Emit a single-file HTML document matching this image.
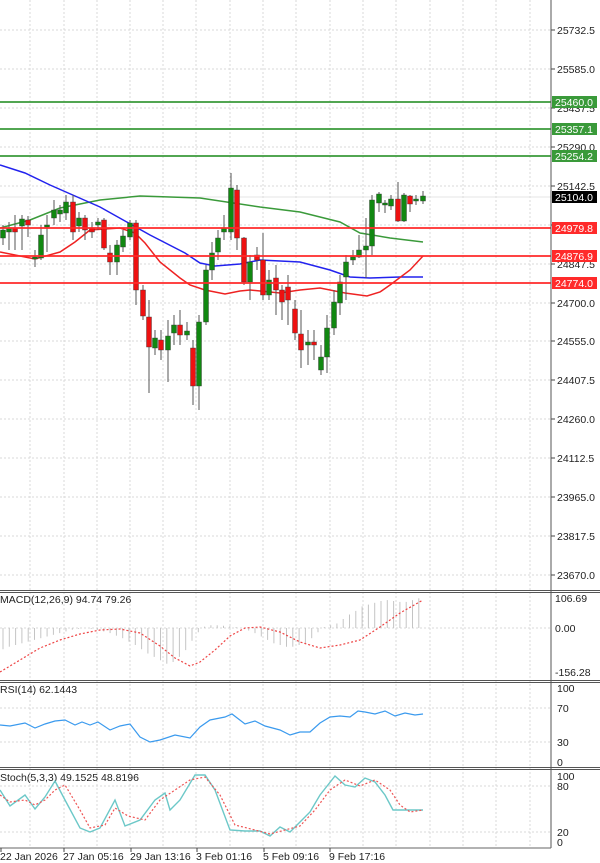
<!DOCTYPE html>
<html><head><meta charset="utf-8"><style>
html,body{margin:0;padding:0;background:#fff;}
svg{display:block;font-family:"Liberation Sans",sans-serif;}
</style></head><body>
<svg id="s" width="600" height="863" xmlns="http://www.w3.org/2000/svg"></svg>
<script>
const S=document.getElementById('s');let h='';
const L=(x1,y1,x2,y2,c,w,d)=>{h+=`<line x1="${x1}" y1="${y1}" x2="${x2}" y2="${y2}" stroke="${c}" stroke-width="${w||1}" ${d?`stroke-dasharray="${d}"`:''}/>`;};
const T=(x,y,t,s,c,a)=>{h+=`<text x="${x}" y="${y}" font-size="${s||11}" fill="${c||'#222'}" ${a?`text-anchor="${a}"`:''}>${t}</text>`;};
const P=(pts,c,w,d)=>{h+=`<polyline fill="none" points="${pts.map(p=>p.join(',')).join(' ')}" stroke="${c}" stroke-width="${w||1.5}" ${d?`stroke-dasharray="${d}"`:''}/>`;};
const gx=[30,64,97,130,163,196,230,263,296,330,363,396,430,463,496,530];
gx.forEach(x=>L(x,0,x,848,'#d8d8d8',1,'2,2'));
const prices=[[25732.5,30],[25585.0,69],[25437.5,108],[25290.0,147],[25142.5,186],[24995.0,225],[24847.5,264],[24700.0,303],[24555.0,341],[24407.5,380],[24260.0,419],[24112.5,458],[23965.0,497],[23817.5,536],[23670.0,575]];
prices.forEach(p=>{L(0,p[1],551,p[1],'#d8d8d8',1,'2,2');L(551,p[1],555,p[1],'#444');T(557,p[1]+4,p[0].toFixed(1),10.5);});
L(0,197,551,197,'#e4e4e4',1);
P([[0,228],[30,220],[60,208],[100,200],[140,196],[200,198],[260,207],[300,212],[340,222],[360,233],[390,238],[423,242]],'#3a9a3a');
P([[0,165],[25,173],[50,185],[100,207],[150,235],[185,253],[200,263],[215,266],[240,264],[260,260],[300,262],[330,270],[350,277],[370,278],[400,277],[423,277]],'#2222ee');
P([[0,252],[20,256],[35,259],[60,252],[75,242],[90,230],[120,228],[135,233],[145,243],[160,262],[180,278],[190,285],[205,290],[225,294],[240,291],[250,290],[280,293],[300,290],[320,288],[345,293],[367,296],[380,292],[390,285],[410,270],[423,256]],'#ee2222');
const C=[[3,230,238,225,245,1],[9,228,232,222,250,1],[15,228,232,215,250,0],[22,219,226,215,250,1],[28,220,225,216,237,0],[35,257,259,250,267,1],[41,235,258,225,260,1],[47,225,227,215,252,1],[54,210,218,200,225,1],[60,210,214,205,222,1],[66,202,213,195,220,1],[73,202,232,195,240,0],[79,218,226,212,232,1],[85,218,230,215,240,0],[92,228,232,222,238,0],[98,222,225,218,230,1],[104,220,248,218,250,0],[110,253,262,245,275,0],[117,245,262,240,275,1],[123,236,247,230,252,1],[130,223,237,220,240,1],[136,223,290,220,305,0],[143,290,316,285,320,0],[149,317,347,300,393,0],[155,338,348,330,355,1],[161,340,350,330,360,0],[168,336,350,320,382,1],[174,325,333,315,345,1],[180,325,335,310,345,0],[187,331,335,322,340,1],[193,348,386,340,405,0],[199,322,386,315,410,1],[206,270,322,265,325,1],[212,253,270,242,280,1],[218,238,252,230,260,1],[224,228,232,215,240,1],[231,188,232,173,240,1],[237,190,238,185,250,0],[244,238,282,237,285,0],[250,262,282,255,300,1],[257,255,260,247,270,0],[263,260,295,233,300,0],[269,280,295,270,300,1],[276,278,290,265,315,0],[282,290,302,285,320,0],[288,287,300,275,325,0],[295,309,333,300,340,0],[301,334,350,310,368,0],[308,342,345,330,365,1],[314,342,345,330,360,0],[321,357,370,345,375,1],[327,328,357,315,373,1],[334,302,328,290,335,1],[340,282,303,275,315,1],[346,262,277,255,300,1],[353,257,260,250,265,1],[359,250,257,235,258,1],[366,246,250,218,278,1],[372,200,246,195,255,1],[379,194,203,192,212,1],[385,203,205,200,213,1],[391,199,206,195,210,1],[398,199,221,182,222,0],[404,195,221,193,222,1],[410,196,204,195,212,0],[416,199,201,195,205,1],[423,196,201,191,204,1]];
C.forEach(c=>{L(c[0],c[3],c[0],c[4],'#555',1);const col=c[5]?'#118811':'#ee1111';h+=`<rect x="${c[0]-2.5}" y="${c[1]}" width="5" height="${Math.max(c[2]-c[1],1.5)}" fill="${col}" stroke="#333" stroke-width="0.4"/>`;});
[[102,'25460.0','#3a9a3a'],[129,'25357.1','#3a9a3a'],[156,'25254.2','#3a9a3a'],[228,'24979.8','#ff2a2a'],[256,'24876.9','#ff2a2a'],[283,'24774.0','#ff2a2a']].forEach(l=>{L(0,l[0],551,l[0],l[2],1.8);h+=`<rect x="552" y="${l[0]-6}" width="45" height="12" fill="${l[2]}"/>`;T(555,l[0]+4,l[1],10.5,'#fff');});
h+=`<rect x="552" y="191" width="45" height="12" fill="#000"/>`;T(555,201,'25104.0',10.5,'#fff');
L(551,0,551,848,'#555',1);
[590.5,592.5,680.5,682.5,767.5,769.5].forEach(y=>L(0,y,600,y,'#555',1));
L(0,848,551,848,'#666',1);
// MACD
L(0,628,551,628,'#d8d8d8',1,'2,2');
T(0,603,'MACD(12,26,9) 94.74 79.26',10.5);
T(555,602,'106.69',10.5);T(555,632,'0.00',10.5);T(555,676,'-156.28',10.5);
const hist=[-25,-22,-20,-18,-16,-14,-12,-10,-8,-6,-4,-2,-1,0,-1,-2,-4,-6,-9,-12,-16,-20,-25,-30,-34,-38,-42,-40,-34,-26,-15,-5,3,6,6,5,4,2,0,-3,-6,-10,-14,-18,-20,-22,-22,-20,-18,-12,-5,2,6,10,20,30,38,48,52,56,60,62,60,58,58,62,66];
hist.forEach((v,i)=>L(3+i*6.3,628,3+i*6.3,628-v*(v>0?0.45:0.85),'#c4c4c4',1));
P([[0,672],[20,660],[40,648],[60,640],[80,634],[100,630],[120,629],[140,633],[160,646],[175,658],[190,666],[200,662],[215,650],[230,636],[245,628],[260,627],[280,632],[300,642],[320,648],[340,645],[360,640],[380,627],[400,613],[423,600]],'#ee4444',1.2,'2,2');
// RSI
[708,742].forEach(y=>L(0,y,551,y,'#d8d8d8',1,'2,2'));
T(0,693,'RSI(14) 62.1443',10.5);
T(557,692,'100',10.5);T(557,712,'70',10.5);T(557,746,'30',10.5);T(557,766,'0',10.5);
P([[0,725],[10,726],[25,723],[35,728],[45,724],[55,721],[65,720],[75,725],[82,722],[90,725],[98,722],[110,730],[120,726],[130,724],[140,737],[150,742],[160,740],[175,735],[190,738],[200,727],[210,720],[225,717],[232,714],[245,724],[255,721],[265,726],[280,730],[290,735],[300,732],[310,732],[320,723],[330,717],[340,716],[350,717],[358,711],[365,712],[375,714],[385,711],[395,716],[405,713],[415,715],[423,714]],'#3a9aee',1.2);
// Stoch
[786,832].forEach(y=>L(0,y,551,y,'#d8d8d8',1,'2,2'));
T(0,781,'Stoch(5,3,3) 49.1525 48.8196',10.5);
T(557,780,'100',10.5);T(557,790,'80',10.5);T(557,836,'20',10.5);T(557,846,'0',10.5);
P([[0,790],[10,806],[25,795],[35,809],[45,797],[55,781],[65,800],[80,828],[90,832],[100,828],[115,800],[125,826],[140,820],[155,800],[165,793],[170,810],[180,800],[195,775],[205,775],[215,790],[230,830],[245,831],[260,831],[270,836],[280,827],[290,832],[300,822],[310,812],[320,795],[335,776],[345,785],[355,787],[365,778],[375,782],[385,795],[393,810],[405,810],[423,810]],'#6cc8c8',1.4);
P([[0,795],[10,802],[25,800],[35,805],[45,800],[55,790],[65,785],[80,810],[90,828],[105,825],[115,808],[128,816],[145,820],[160,800],[175,790],[190,780],[205,777],[220,795],[235,825],[255,830],[270,834],[285,830],[300,826],[315,810],[330,790],[345,780],[360,786],[375,780],[390,790],[400,805],[410,812],[423,810]],'#ee5555',1.2,'2,2');
[[0,'22 Jan 2026'],[63,'27 Jan 05:16'],[130,'29 Jan 13:16'],[196,'3 Feb 01:16'],[263,'5 Feb 09:16'],[329,'9 Feb 17:16']].forEach(d=>{L(d[0]+1,848,d[0]+1,852,'#444');T(d[0],860,d[1],10.5);});
S.innerHTML=h;
</script>
</body></html>
